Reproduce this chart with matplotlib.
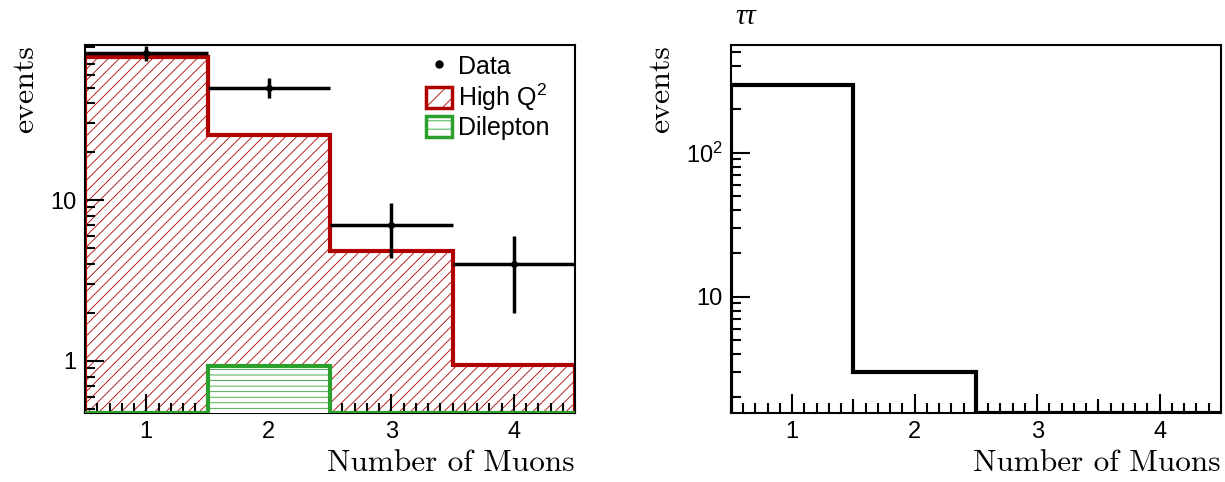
import matplotlib
matplotlib.use("Agg")
import matplotlib.pyplot as plt
import numpy as np
from matplotlib.patches import Patch
from matplotlib.lines import Line2D
from matplotlib.ticker import FixedLocator, FuncFormatter, MultipleLocator, NullFormatter

plt.rcParams['font.family'] = ['Liberation Sans', 'DejaVu Sans']
plt.rcParams['mathtext.fontset'] = 'custom'
plt.rcParams['mathtext.rm'] = 'Liberation Sans'
plt.rcParams['mathtext.it'] = 'Liberation Sans:italic'
plt.rcParams['mathtext.default'] = 'regular'
plt.rcParams['hatch.linewidth'] = 0.6

# data: number of muons per bin
edges = [0.5, 1.5, 2.5, 3.5, 4.5]
centers = [1, 2, 3, 4]
data_counts = [82, 50, 7, 4]
highq2 = [77, 25.5, 4.85, 0.94]
dilepton = [0, 0.93, 0, 0]
tautau = [297, 3.0, 0, 0]

ylim_left = (0.475, 92)
ylim_right = (1.56, 560)

RED = '#b00000'
GREEN = '#2ca02c'

fig = plt.figure(figsize=(12.25, 4.82), dpi=100)
ax1 = fig.add_axes([0.0694, 0.1432, 0.4, 0.7635])
ax2 = fig.add_axes([0.5967, 0.1432, 0.4, 0.7635])


def style_axes(ax, ylim, yticks):
    ax.set_yscale('log')
    ax.set_xlim(edges[0], edges[-1])
    ax.set_ylim(*ylim)
    ax.xaxis.set_major_locator(FixedLocator(centers))
    ax.xaxis.set_minor_locator(MultipleLocator(0.1))
    ax.yaxis.set_major_locator(FixedLocator(yticks))
    ax.yaxis.set_major_formatter(FuncFormatter(
        lambda v, p: '%d' % v if v <= 10 else '$10^{%d}$' % round(np.log10(v))))
    ax.tick_params(axis='both', which='both', direction='in',
                   top=False, right=False, width=1.5, labelsize=17)
    ax.tick_params(axis='both', which='major', length=14, pad=6)
    ax.tick_params(axis='both', which='minor', length=7)
    for s in ax.spines.values():
        s.set_linewidth(1.5)
    # medium ticks at the bin edges
    sec = ax.secondary_xaxis('bottom')
    sec.xaxis.set_major_locator(FixedLocator(edges[1:-1]))
    sec.xaxis.set_major_formatter(NullFormatter())
    sec.tick_params(direction='in', length=10, width=1.5)
    sec.spines['bottom'].set_visible(False)
    ax.set_xlabel('Number of Muons', family='cmr10', fontsize=22.5, loc='right')
    ax.set_ylabel('events', family='cmr10', fontsize=23, loc='top', labelpad=8)


# left panel
style_axes(ax1, ylim_left, [1, 10])
base = ylim_left[0]
ax1.stairs(highq2, edges, baseline=base, fill=True, facecolor='white',
           edgecolor=RED, hatch='///', linewidth=0, zorder=1)
ax1.stairs(highq2, edges, baseline=base, color=RED, linewidth=3, zorder=2)
dl = np.maximum(dilepton, base * 1.005)
ax1.stairs(dl, edges, baseline=base, fill=True, facecolor='white',
           edgecolor=GREEN, hatch='---', linewidth=0, zorder=3)
ax1.stairs(dl, edges, baseline=base, color=GREEN, linewidth=3, zorder=4)

xerr = [0.5] * len(centers)
yerr = np.sqrt(data_counts)
ax1.errorbar(centers, data_counts, xerr=xerr, yerr=yerr, fmt='o', color='black',
             markersize=4, elinewidth=2.5, capsize=0, zorder=5)

handles = [
    Line2D([], [], marker='o', color='black', linestyle='none', markersize=5),
    Patch(facecolor='white', edgecolor=RED, hatch='//', linewidth=2.5),
    Patch(facecolor='white', edgecolor=GREEN, hatch='--', linewidth=2.5),
]
ax1.legend(handles, ['Data', 'High Q$^{2}$', 'Dilepton'], loc='upper left',
           bbox_to_anchor=(0.675, 1.0), frameon=False, fontsize=18,
           handlelength=1.05, handleheight=0.9, handletextpad=0.25,
           labelspacing=0.12, borderaxespad=0.0)

# right panel
style_axes(ax2, ylim_right, [10, 100])
base2 = ylim_right[0]
ax2.stairs(np.maximum(tautau, base2 * 1.005), edges, baseline=base2,
           color='black', linewidth=3, zorder=2)
ax2.text(0.008, 1.04, 'ττ', transform=ax2.transAxes, family='Liberation Serif',
         style='italic', fontsize=21, ha='left', va='bottom')

fig.savefig('out.png', dpi=100)
